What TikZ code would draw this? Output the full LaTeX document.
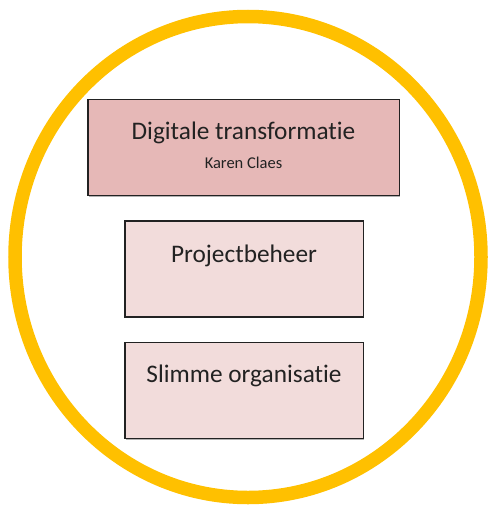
\documentclass[tikz,border=0pt]{standalone}
\usepackage{fontspec}
\setmainfont{Carlito}[Ligatures={NoCommon}]
\usetikzlibrary{positioning,shadows}
\definecolor{ringgold}{HTML}{FFC000}
\definecolor{rosedark}{HTML}{E6B8B7}
\definecolor{roselight}{HTML}{F2DCDB}
\definecolor{inkgrey}{HTML}{222222}
\tikzset{
	blok/.style={rectangle, draw=inkgrey, line width=1.5pt, minimum width=238.5pt, minimum height=96pt, inner sep=0pt,
		drop shadow={shadow xshift=1pt, shadow yshift=-1pt, fill=black, opacity=0.3}},
	titel/.style={text=inkgrey, font=\fontsize{25.3}{30}\selectfont, anchor=base, inner sep=0pt},
	naam/.style={text=inkgrey, font=\fontsize{16.5}{20}\selectfont, anchor=base, inner sep=0pt}
}
\begin{document}
\begin{tikzpicture}[x=1pt, y=-1pt]
	\useasboundingbox (0,0) rectangle (489,506);
	% gouden ring
	\draw[ringgold, line width=13.5pt] (248,257) ellipse [x radius=233, y radius=240.5];
	% blokken
	\node [blok, fill=rosedark, minimum width=311.5pt] (digitaal) at (243.5,147.5) {};
	\node [blok, fill=roselight, below=24pt of digitaal, xshift=0.5pt] (project) {};
	\node [blok, fill=roselight, below=24pt of project] (slim) {};
	% teksten
	\node [titel] (tDigitaal) at ([yshift=-41pt]digitaal.north) {Digitale transformatie};
	\node [naam] (tKaren) at ([yshift=-70pt]digitaal.north) {Karen Claes};
	\node [titel] (tProject) at ([yshift=-42pt]project.north) {Projectbeheer};
	\node [titel] (tSlim) at ([yshift=-41pt]slim.north) {Slimme organisatie};
\end{tikzpicture}
\end{document}
